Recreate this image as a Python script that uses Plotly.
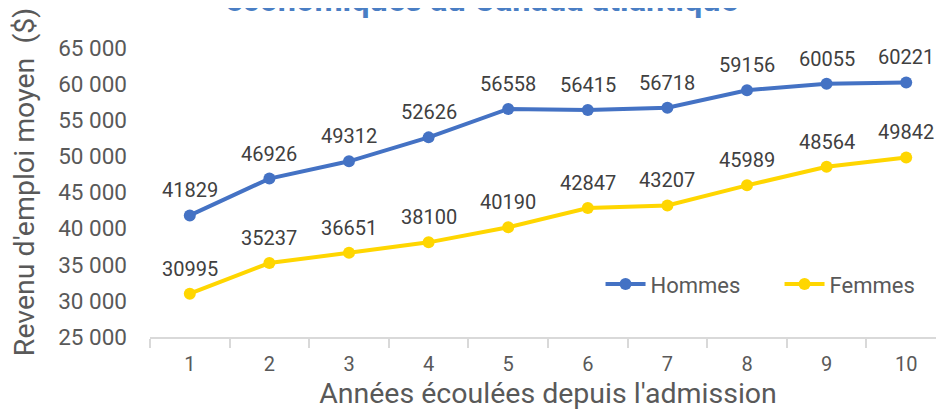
import plotly.graph_objects as go

years = ["1", "2", "3", "4", "5", "6", "7", "8", "9", "10"]
hommes = [41829, 46926, 49312, 52626, 56558, 56415, 56718, 59156, 60055, 60221]
femmes = [30995, 35237, 36651, 38100, 40190, 42847, 43207, 45989, 48564, 49842]
y_ticks = [25000, 30000, 35000, 40000, 45000, 50000, 55000, 60000, 65000]
y_ticktext = ["25 000", "30 000", "35 000", "40 000", "45 000", "50 000", "55 000", "60 000", "65 000"]

BLUE = "#4472C4"
YELLOW = "#FFD600"
GREY = "#595959"
FONT = "Roboto"

fig = go.Figure()
for name, vals, col in [("Hommes", hommes, BLUE), ("Femmes", femmes, YELLOW)]:
    fig.add_trace(go.Scatter(
        x=years, y=vals, name=name, mode="lines+markers",
        line=dict(color=col, width=4),
        marker=dict(color=col, size=12),
        cliponaxis=False,
    ))
    for i, yv in enumerate(vals):
        fig.add_annotation(x=i, y=yv, text=str(yv), showarrow=False,
                           yshift=25, font=dict(family=FONT, size=20, color="#404040"))

fig.add_annotation(xref="paper", yref="paper", x=0.416, y=1.088, xanchor="center", yanchor="middle",
                   text="<b>économiques au Canada atlantique</b>", showarrow=False,
                   font=dict(family=FONT, size=32.5, color="#4A7EC4"))

fig.update_layout(
    width=944, height=409,
    margin=dict(l=142, r=6, t=19, b=80, autoexpand=False),
    paper_bgcolor="white", plot_bgcolor="white",
    font=dict(family=FONT, color=GREY),
    showlegend=True,
    legend=dict(orientation="h", x=0.566, y=0.17, xanchor="left", yanchor="middle",
                font=dict(family=FONT, size=22, color=GREY), bgcolor="rgba(0,0,0,0)",
                entrywidth=124, itemwidth=40),
    xaxis=dict(type="category", range=[-0.5, 9.5], tickson="boundaries", automargin=False,
               ticks="outside", ticklen=9, tickcolor="#D9D9D9", tickwidth=1.5,
               showline=True, linecolor="#D9D9D9", linewidth=1.5, showgrid=False,
               tickfont=dict(family=FONT, size=20, color=GREY), ticklabelstandoff=8,
               title=dict(text="Années écoulées depuis l'admission", standoff=8,
                          font=dict(family=FONT, size=28.5, color=GREY))),
    yaxis=dict(range=[25000, 67900], tickvals=y_ticks, ticktext=y_ticktext, automargin=False,
               showgrid=False, zeroline=False, showline=False, ticks="",
               tickfont=dict(family=FONT, size=22.5, color=GREY), ticklabelstandoff=22,
               title=dict(text="Revenu d'emploi moyen  ($)", standoff=20,
                          font=dict(family=FONT, size=28.5, color=GREY))),
)

fig.write_html("out.html")
